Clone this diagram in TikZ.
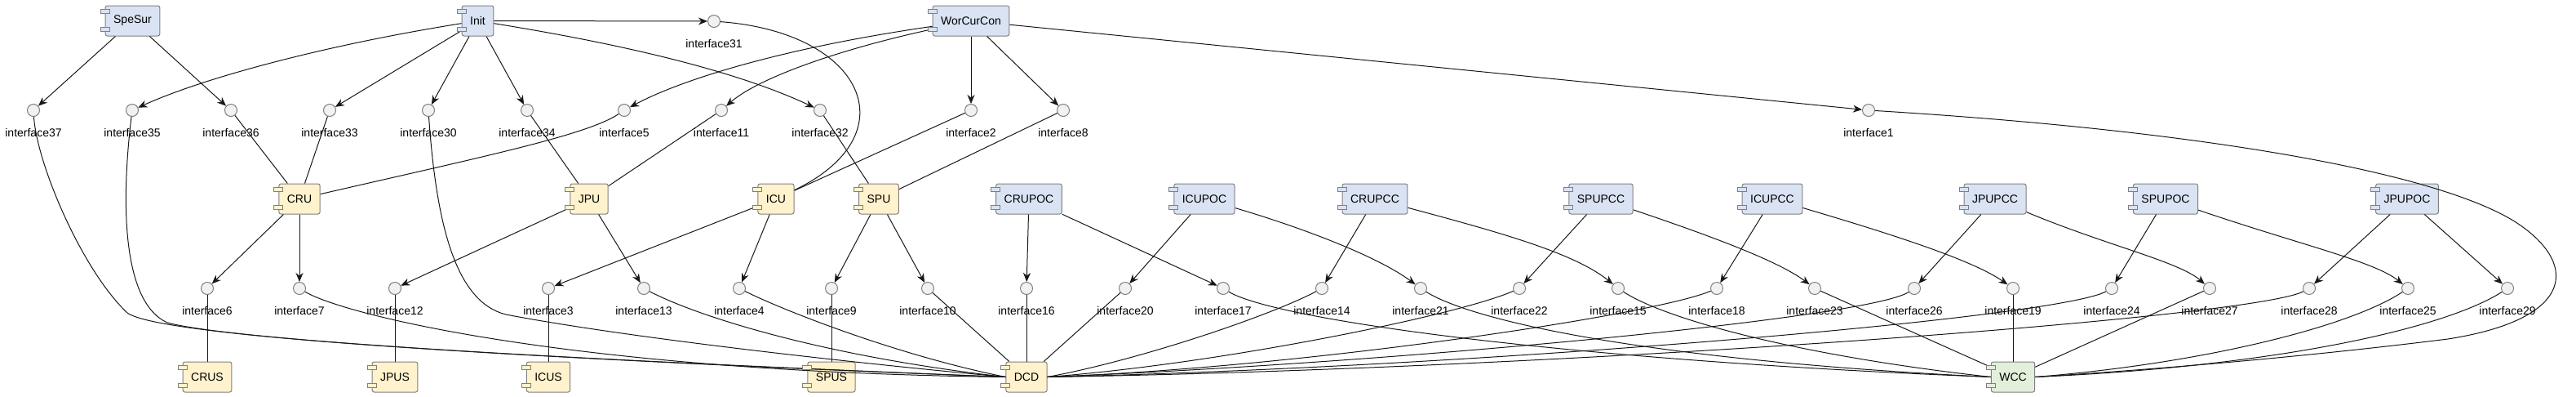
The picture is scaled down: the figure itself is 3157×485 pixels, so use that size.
\documentclass[tikz,border=0pt]{standalone}
\usepackage{fontspec}
\setmainfont{Liberation Sans}
\usetikzlibrary{arrows.meta}

\definecolor{compblue}{RGB}{218,227,243}
\definecolor{compyellow}{RGB}{255,242,204}
\definecolor{compgreen}{RGB}{226,239,218}
\definecolor{bordergray}{RGB}{128,128,128}
\definecolor{ifacefill}{RGB}{241,241,241}
\definecolor{linedark}{RGB}{24,24,24}

\tikzstyle{comp}=[rectangle,draw=bordergray,rounded corners=2.5pt,minimum height=37pt,inner xsep=10pt,inner ysep=0pt,font=\fontsize{14}{16}\selectfont]
\tikzstyle{iface}=[circle,draw=bordergray,fill=ifacefill,minimum size=15pt,inner sep=0pt]
\tikzstyle{lbl}=[font=\fontsize{14}{16}\selectfont,inner sep=0pt,yshift=-14pt]
\tikzstyle{port}=[draw=bordergray]

\begin{document}
\begin{tikzpicture}[x=1pt,y=-1pt,line width=1pt,draw=linedark,>={Stealth[length=11pt,width=9pt,inset=3.5pt]}]
	\useasboundingbox (0,0) rectangle (3157,485);

	% components
	\node[comp,fill=compblue] (SpeSur) at (162.5,25.5) {SpeSur};
	\node[comp,fill=compblue] (Init) at (585.5,25.5) {Init};
	\node[comp,fill=compblue] (WorCurCon) at (1190,25.5) {WorCurCon};

	\node[comp,fill=compyellow] (CRU) at (367,243.5) {CRU};
	\node[comp,fill=compyellow] (JPU) at (722,243.5) {JPU};
	\node[comp,fill=compyellow] (ICU) at (951,243.5) {ICU};
	\node[comp,fill=compyellow] (SPU) at (1077,243.5) {SPU};
	\node[comp,fill=compblue] (CRUPOC) at (1261,243.5) {CRUPOC};
	\node[comp,fill=compblue] (ICUPOC) at (1476,243.5) {ICUPOC};
	\node[comp,fill=compblue] (CRUPCC) at (1685,243.5) {CRUPCC};
	\node[comp,fill=compblue] (SPUPCC) at (1962,243.5) {SPUPCC};
	\node[comp,fill=compblue] (ICUPCC) at (2172,243.5) {ICUPCC};
	\node[comp,fill=compblue] (JPUPCC) at (2445,243.5) {JPUPCC};
	\node[comp,fill=compblue] (SPUPOC) at (2654,243.5) {SPUPOC};
	\node[comp,fill=compblue] (JPUPOC) at (2950,243.5) {JPUPOC};

	\node[comp,fill=compyellow] (CRUS) at (254,461.5) {CRUS};
	\node[comp,fill=compyellow] (JPUS) at (484,461.5) {JPUS};
	\node[comp,fill=compyellow] (ICUS) at (672,461.5) {ICUS};
	\node[comp,fill=compyellow] (SPUS) at (1019,461.5) {SPUS};
	\node[comp,fill=compyellow] (DCD) at (1258,461.5) {DCD};
	\node[comp,fill=compgreen] (WCC) at (2467,461.5) {WCC};

	% interfaces
	\node[iface,label={[lbl]below:interface31}] (i31) at (875,26) {};
	\node[iface,label={[lbl]below:interface37}] (i37) at (41,135) {};
	\node[iface,label={[lbl]below:interface35}] (i35) at (162,135) {};
	\node[iface,label={[lbl]below:interface36}] (i36) at (283,135) {};
	\node[iface,label={[lbl]below:interface33}] (i33) at (404,135) {};
	\node[iface,label={[lbl]below:interface30}] (i30) at (525,135) {};
	\node[iface,label={[lbl]below:interface34}] (i34) at (646,135) {};
	\node[iface,label={[lbl]below:interface5}] (i5) at (765,135) {};
	\node[iface,label={[lbl]below:interface11}] (i11) at (884,135) {};
	\node[iface,label={[lbl]below:interface32}] (i32) at (1005,135) {};
	\node[iface,label={[lbl]below:interface2}] (i2) at (1190,135) {};
	\node[iface,label={[lbl]below:interface8}] (i8) at (1303,135) {};
	\node[iface,label={[lbl]below:interface1}] (i1) at (2290,135) {};

	\node[iface,label={[lbl]below:interface6}] (i6) at (254,353) {};
	\node[iface,label={[lbl]below:interface7}] (i7) at (367,353) {};
	\node[iface,label={[lbl]below:interface12}] (i12) at (484,353) {};
	\node[iface,label={[lbl]below:interface3}] (i3) at (672,353) {};
	\node[iface,label={[lbl]below:interface13}] (i13) at (789,353) {};
	\node[iface,label={[lbl]below:interface4}] (i4) at (906,353) {};
	\node[iface,label={[lbl]below:interface9}] (i9) at (1019,353) {};
	\node[iface,label={[lbl]below:interface10}] (i10) at (1137,353) {};
	\node[iface,label={[lbl]below:interface16}] (i16) at (1258,353) {};
	\node[iface,label={[lbl]below:interface20}] (i20) at (1379,353) {};
	\node[iface,label={[lbl]below:interface17}] (i17) at (1499,353) {};
	\node[iface,label={[lbl]below:interface14}] (i14) at (1620,353) {};
	\node[iface,label={[lbl]below:interface21}] (i21) at (1741,353) {};
	\node[iface,label={[lbl]below:interface22}] (i22) at (1862,353) {};
	\node[iface,label={[lbl]below:interface15}] (i15) at (1983,353) {};
	\node[iface,label={[lbl]below:interface18}] (i18) at (2104,353) {};
	\node[iface,label={[lbl]below:interface23}] (i23) at (2224,353) {};
	\node[iface,label={[lbl]below:interface26}] (i26) at (2346,353) {};
	\node[iface,label={[lbl]below:interface19}] (i19) at (2467,353) {};
	\node[iface,label={[lbl]below:interface24}] (i24) at (2588,353) {};
	\node[iface,label={[lbl]below:interface27}] (i27) at (2708,353) {};
	\node[iface,label={[lbl]below:interface28}] (i28) at (2830,353) {};
	\node[iface,label={[lbl]below:interface25}] (i25) at (2951,353) {};
	\node[iface,label={[lbl]below:interface29}] (i29) at (3073,353) {};

	% provided interfaces
	\draw[->] (SpeSur) -- (i37);
	\draw[->] (SpeSur) -- (i36);
	\draw[->] (Init) .. controls (400,55) and (250,95) .. (i35);
	\draw[->] (Init) -- (i33);
	\draw[->] (Init) -- (i30);
	\draw[->] (Init) -- (i34);
	\draw[->] (Init) -- (i31);
	\draw[->] (Init) .. controls (800,60) and (920,95) .. (i32);
	\draw[->] (WorCurCon) .. controls (950,60) and (830,100) .. (i5);
	\draw[->] (WorCurCon) .. controls (1030,60) and (930,95) .. (i11);
	\draw[->] (WorCurCon) -- (i2);
	\draw[->] (WorCurCon) -- (i8);
	\draw[->] (WorCurCon) -- (i1);

	\draw[->] (CRU) -- (i6);
	\draw[->] (CRU) -- (i7);
	\draw[->] (JPU) -- (i12);
	\draw[->] (JPU) -- (i13);
	\draw[->] (ICU) -- (i3);
	\draw[->] (ICU) -- (i4);
	\draw[->] (SPU) -- (i9);
	\draw[->] (SPU) -- (i10);
	\draw[->] (CRUPOC) -- (i16);
	\draw[->] (CRUPOC) -- (i17);
	\draw[->] (ICUPOC) -- (i20);
	\draw[->] (ICUPOC) .. controls (1600,280) and (1690,315) .. (i21);
	\draw[->] (CRUPCC) -- (i14);
	\draw[->] (CRUPCC) .. controls (1840,285) and (1930,310) .. (i15);
	\draw[->] (SPUPCC) -- (i22);
	\draw[->] (SPUPCC) .. controls (2100,290) and (2180,320) .. (i23);
	\draw[->] (ICUPCC) -- (i18);
	\draw[->] (ICUPCC) .. controls (2330,290) and (2420,320) .. (i19);
	\draw[->] (JPUPCC) -- (i26);
	\draw[->] (JPUPCC) .. controls (2580,300) and (2670,320) .. (i27);
	\draw[->] (SPUPOC) -- (i24);
	\draw[->] (SPUPOC) .. controls (2820,300) and (2910,320) .. (i25);
	\draw[->] (JPUPOC) -- (i28);
	\draw[->] (JPUPOC) -- (i29);

	% required interfaces
	\draw (i36) -- (CRU);
	\draw (i33) -- (CRU);
	\draw (i5) .. controls (720,165) and (600,190) .. (CRU);
	\draw (i34) -- (JPU);
	\draw (i11) -- (JPU);
	\draw (i31) .. controls (1060,40) and (1115,165) .. (ICU);
	\draw (i2) -- (ICU);
	\draw (i32) -- (SPU);
	\draw (i8) -- (SPU);

	\draw (i37) .. controls (45,200) and (100,330) .. (156,383) .. controls (200,415) and (700,440) .. (DCD.west);
	\draw (i35) .. controls (148,250) and (150,370) .. (205,395) .. controls (300,420) and (800,445) .. (DCD.west);
	\draw (i30) .. controls (535,280) and (560,370) .. (620,385) .. controls (750,410) and (1000,440) .. (DCD.west);
	\draw (i1) .. controls (2700,160) and (2980,210) .. (3080,270) .. controls (3160,320) and (3160,390) .. (3000,415) .. controls (2800,440) and (2600,455) .. (WCC.east);

	\draw (i6) -- (CRUS);
	\draw (i12) -- (JPUS);
	\draw (i3) -- (ICUS);
	\draw (i9) -- (SPUS);
	\draw (i7) .. controls (420,385) and (700,455) .. (DCD.west);
	\draw (i13) .. controls (850,385) and (1000,435) .. (DCD.west);
	\draw (i4) .. controls (960,380) and (1100,435) .. (DCD.west);
	\draw (i10) -- (DCD);
	\draw (i16) -- (DCD);
	\draw (i20) -- (DCD);
	\draw (i14) .. controls (1560,385) and (1400,440) .. (DCD.east);
	\draw (i22) .. controls (1790,385) and (1500,445) .. (DCD.east);
	\draw (i18) .. controls (2030,385) and (1600,450) .. (DCD.east);
	\draw (i26) .. controls (2290,390) and (1700,445) .. (DCD.east);
	\draw (i24) .. controls (2520,390) and (1800,450) .. (DCD.east);
	\draw (i28) .. controls (2760,390) and (1900,452) .. (DCD.east);
	\draw (i17) .. controls (1560,390) and (1900,440) .. (WCC.west);
	\draw (i21) .. controls (1800,390) and (2000,440) .. (WCC.west);
	\draw (i15) .. controls (2040,390) and (2200,435) .. (WCC.west);
	\draw (i23) -- (WCC);
	\draw (i19) -- (WCC);
	\draw (i27) -- (WCC);
	\draw (i25) .. controls (2880,400) and (2700,445) .. (WCC.east);
	\draw (i29) .. controls (3000,400) and (2800,448) .. (WCC.east);

	% component ports
	\foreach \c in {SpeSur,Init,WorCurCon,CRUPOC,ICUPOC,CRUPCC,SPUPCC,ICUPCC,JPUPCC,SPUPOC,JPUPOC}{
		\draw[port,fill=compblue] ([xshift=-5.5pt,yshift=-5pt]\c.north west) rectangle ++(11pt,-5pt);
		\draw[port,fill=compblue] ([xshift=-5.5pt,yshift=6pt]\c.south west) rectangle ++(11pt,5pt);
	}
	\foreach \c in {CRU,JPU,ICU,SPU,CRUS,JPUS,ICUS,SPUS,DCD}{
		\draw[port,fill=compyellow] ([xshift=-5.5pt,yshift=-5pt]\c.north west) rectangle ++(11pt,-5pt);
		\draw[port,fill=compyellow] ([xshift=-5.5pt,yshift=6pt]\c.south west) rectangle ++(11pt,5pt);
	}
	\draw[port,fill=compgreen] ([xshift=-5.5pt,yshift=-5pt]WCC.north west) rectangle ++(11pt,-5pt);
	\draw[port,fill=compgreen] ([xshift=-5.5pt,yshift=6pt]WCC.south west) rectangle ++(11pt,5pt);
\end{tikzpicture}
\end{document}
